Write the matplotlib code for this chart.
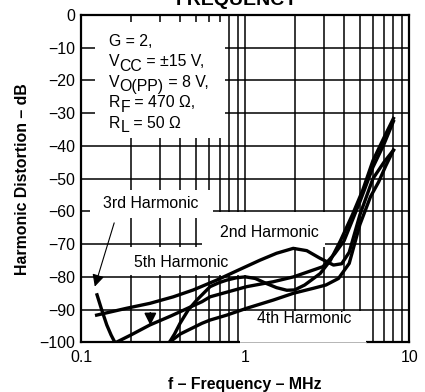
import matplotlib
matplotlib.use('Agg')
import matplotlib.pyplot as plt
from matplotlib.patches import Rectangle
from matplotlib.ticker import NullFormatter

plt.rcParams['font.family'] = ['Liberation Sans', 'DejaVu Sans']
FS = 11.4

# frequency (MHz) and distortion (dB) for each harmonic
f_2nd = [0.124, 0.189, 0.262, 0.364, 0.482, 0.669, 0.929, 1.23, 1.55, 1.96, 2.37,
         2.85, 3.45, 3.87, 4.3, 5.0, 6.0, 7.0, 8.0]
hd_2nd = [-91.7, -89.6, -88.1, -86.1, -84.0, -81.0, -77.7, -74.9, -72.8, -71.3, -72.0,
          -74.3, -76.4, -76.0, -72.5, -61.0, -50.0, -45.0, -41.3]

f_3rd_low = [0.1247, 0.133, 0.143, 0.152, 0.164]
hd_3rd_low = [-85.5, -90.0, -94.7, -97.8, -101.0]

f_3rd = [0.335, 0.37, 0.40, 0.449, 0.506, 0.61, 0.69, 0.77, 0.88, 1.0, 1.15, 1.34,
         1.55, 1.79, 2.0, 2.3, 2.86, 3.3, 3.8, 4.5, 5.2, 6.0, 7.0, 8.0]
hd_3rd = [-101.0, -97.5, -94.2, -90.1, -87.1, -83.0, -81.8, -81.0, -80.3, -80.0, -80.5, -82.0,
          -83.3, -84.1, -84.0, -82.5, -79.0, -75.0, -69.0, -61.0, -53.5, -44.5, -37.5, -31.6]

f_4th = [0.325, 0.40, 0.544, 0.61, 0.77, 1.02, 1.48, 1.97, 2.6, 3.1, 3.7, 4.3, 5.0,
         5.8, 6.5, 7.2, 8.0]
hd_4th = [-101.0, -97.5, -94.2, -93.2, -91.7, -89.6, -87.1, -85.0, -83.5, -82.5, -80.5, -75.9, -64.0,
          -55.5, -51.0, -46.0, -41.3]

f_5th = [0.149, 0.20, 0.262, 0.35, 0.544, 0.61, 1.02, 1.48, 1.97, 2.97, 3.5, 4.0, 5.0,
         6.0, 7.0, 8.0]
hd_5th = [-101.0, -97.8, -94.7, -92.0, -87.6, -86.1, -83.0, -81.5, -80.0, -76.9, -73.0, -69.0, -57.0,
          -46.5, -39.5, -32.5]

fig = plt.figure(figsize=(4.25, 3.92), dpi=100)
ax = fig.add_axes([0.1913, 0.1268, 0.7718, 0.8349])

ax.set_xscale('log')
ax.set_xlim(0.1, 10)
ax.set_ylim(-100, 0)
ax.set_xticks([0.1, 1, 10])
ax.set_xticklabels(['0.1', '1', '10'])
ax.xaxis.set_minor_formatter(NullFormatter())
ax.set_yticks(range(-100, 1, 10))
ax.grid(True, which='both', color='black', lw=1.1)
ax.tick_params(which='both', length=0, labelsize=FS)
ax.tick_params(axis='y', pad=4.5)
ax.tick_params(axis='x', pad=5.5)
for s in ax.spines.values():
    s.set_linewidth(1.6)

# white panels behind the notes and curve labels (axes fraction)
panels = [
    (0.042, 0.624, 0.438, 0.978),
    (0.026, 0.380, 0.401, 0.465),
    (0.368, 0.291, 0.743, 0.398),
    (0.109, 0.206, 0.505, 0.291),
]
for x0, y0, x1, y1 in panels:
    ax.add_patch(Rectangle((x0, y0), x1 - x0, y1 - y0, transform=ax.transAxes,
                           fc='white', ec='none', zorder=2))
# the 4th harmonic label also sits over the bottom frame
ax.add_patch(Rectangle((0.484, -0.012), 0.384, 0.108, transform=ax.transAxes,
                       fc='white', ec='none', zorder=2.6, clip_on=False))
ax.plot([0.484, 0.868], [0, 0], transform=ax.transAxes, color='#aaaaaa', lw=0.6,
        zorder=2.7, clip_on=False)

for f, hd in [(f_2nd, hd_2nd), (f_3rd_low, hd_3rd_low), (f_3rd, hd_3rd),
              (f_4th, hd_4th), (f_5th, hd_5th)]:
    ax.plot(f, hd, color='black', lw=2.4, zorder=3, solid_joinstyle='round')


def sub_line(x, y, main, sub, rest, drop=3.2):
    t = ax.text(x, y, main, transform=ax.transAxes, fontsize=FS, va='baseline', zorder=5)
    s = ax.annotate(sub, xy=(1, 0), xycoords=t, xytext=(0, -drop),
                    textcoords='offset points', fontsize=FS, va='bottom', zorder=5)
    ax.annotate(rest, xy=(1, 0), xycoords=s, xytext=(0, drop),
                textcoords='offset points', fontsize=FS, va='bottom', zorder=5)


tx = (109 - 81.3) / 328
base = [(342.3 - (45.5 + 20.6 * i)) / 327.3 for i in range(5)]
ax.text(tx, base[0], 'G = 2,', transform=ax.transAxes, fontsize=FS, va='baseline', zorder=5)
sub_line(tx, base[1], 'V', 'CC', ' = \u00b115 V,')
sub_line(tx, base[2], 'V', 'O(PP)', ' = 8 V,')
sub_line(tx, base[3], 'R', 'F', ' = 470 \u03a9,')
sub_line(tx, base[4], 'R', 'L', ' = 50 \u03a9')

labels = [('3rd Harmonic', 0.211, 0.409), ('2nd Harmonic', 0.573, 0.3226),
          ('5th Harmonic', 0.3034, 0.231), ('4th Harmonic', 0.6796, 0.0587)]
for txt, x, y in labels:
    ax.text(x, y, txt, transform=ax.transAxes, fontsize=FS, ha='center', va='baseline',
            zorder=5)

ax.annotate('', xy=(0.1195, -83.8), xytext=(0.1605, -62.7),
            arrowprops=dict(arrowstyle='-|>', lw=0.8, color='black', mutation_scale=18),
            zorder=4)
ax.annotate('', xy=(0.2636, -94.8), xytext=(0.2636, -91.0),
            arrowprops=dict(arrowstyle='-|>', lw=1.2, color='black', mutation_scale=18,
                            shrinkA=0, shrinkB=0),
            zorder=4)

ax.set_xlabel('f \u2013 Frequency \u2013 MHz', fontsize=FS, fontweight='bold', labelpad=9)
ax.set_ylabel('Harmonic Distortion \u2013 dB', fontsize=FS, fontweight='bold')
ax.yaxis.set_label_coords(-0.1555, 0.5)

fig.text(237 / 425, 1 - 5 / 392, 'FREQUENCY', ha='center', va='baseline',
         fontsize=14, fontweight='bold')

fig.savefig('out.png', dpi=100)
